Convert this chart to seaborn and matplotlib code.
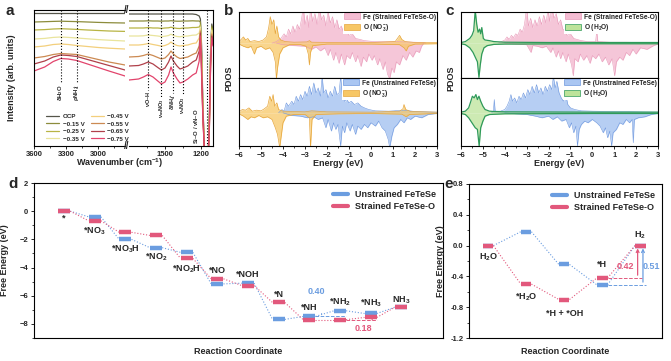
import numpy as np
import pandas as pd
import seaborn as sns
import matplotlib
matplotlib.use("Agg")
import matplotlib.pyplot as plt
from matplotlib.lines import Line2D
from matplotlib.patches import Patch
from matplotlib.ticker import MultipleLocator, FixedLocator, FormatStrFormatter

# ---------------- data: panel a (in situ IR spectra) ----------------
potentials = ["OCP", "\u22120.15 V", "\u22120.25 V", "\u22120.35 V",
              "\u22120.45 V", "\u22120.55 V", "\u22120.65 V", "\u22120.75 V"]
spec_colors = ["#55554a", "#8c8c3c", "#b8b444", "#e9e49c",
               "#f3cf7c", "#cc8a52", "#b0404a", "#e2446c"]
wn_left = [3600, 3500, 3420, 3350, 3280, 3200, 3100, 3000, 2900, 2750]
spec_left = [
    [133, 133, 133, 133, 133, 133, 133, 133, 133, 133],
    [124, 124.3, 124.6, 124.8, 124.6, 124.4, 124, 123.6, 123.3, 123],
    [116, 116.4, 117, 117.3, 117, 116.6, 116, 115.5, 115, 114.6],
    [107, 107.6, 108.6, 109, 108.6, 108, 107.2, 106.4, 105.8, 105],
    [99, 100, 101.5, 102, 101.5, 100.5, 99.5, 98.5, 97.8, 97],
    [88, 89.5, 91.5, 92.5, 92, 91.5, 89, 86.5, 84, 81],
    [82, 85, 89, 91, 90.5, 89.5, 86.5, 83.5, 80.5, 76],
    [75, 79, 84.5, 87.5, 87, 85.5, 82, 78.5, 75, 70],
]
wn_right = [1800, 1720, 1680, 1640, 1600, 1560, 1530, 1500, 1470, 1450, 1430,
            1400, 1375, 1350, 1310, 1270, 1240, 1215, 1205, 1195, 1185, 1170,
            1155, 1140, 1130, 1120, 1110, 1100]
spec_right = [
    [132, 132, 132, 132, 132, 132, 132, 132, 132, 132, 132, 132, 132, 132, 132,
     132, 131.5, 130, 127, 100, 45, -10, -10, -10, 30, 95, 122, 115],
    [125, 125, 125, 125.2, 125, 125, 124.8, 125, 125, 125.3, 125, 124.8, 124.8,
     125, 125, 125.2, 125, 125, 124, 92, 42, -10, -10, -10, 30, 92, 120, 113],
    [118, 118, 118, 118.4, 118, 118, 117.6, 118, 118.2, 118.8, 118.2, 117.6,
     117.5, 118, 118, 118.5, 118.5, 119, 121, 88, 40, -10, -10, -10, 28, 90, 118, 111],
    [110, 110, 110.2, 111, 110.5, 110, 109.4, 109.8, 110.5, 111.8, 110.5, 109.5,
     109.2, 109.8, 110, 110.8, 111, 113, 119, 85, 38, -10, -10, -10, 26, 88, 116, 109],
    [101, 101, 101.5, 102.5, 101.5, 100.6, 99.8, 100.5, 102, 104, 102, 100.5,
     100, 100.5, 101, 102.5, 103, 108, 117, 82, 36, -10, -10, -10, 24, 86, 114, 107],
    [89, 89.5, 90.5, 92, 90.5, 88.5, 87, 88, 91.5, 95, 92, 89, 87.5, 88, 89,
     91.5, 93, 100, 115, 78, 34, -10, -10, -10, 22, 84, 112, 105],
    [80, 80.5, 82, 84, 82, 78.5, 76, 78, 84, 90, 85, 80, 77, 78, 80, 84, 86,
     95, 113, 75, 32, -10, -10, -10, 20, 82, 110, 103],
    [66, 67, 69, 71.5, 69, 65, 62, 64, 71, 79, 73, 67, 63, 64, 67, 71, 73, 85,
     110, 70, 30, -10, -10, -10, 18, 80, 108, 100],
]
# band markers: (wavenumber, label, end of dashed line)
bands_left = [(3350, "$\\delta$H$_2$O", 63), (3200, "$\\rho$NH$_4^+$", 63)]
bands_right = [(1640, "$\\nu$O\u2013H", 56), (1530, "$\\nu_{as}$NO$_3$", 49),
               (1434, "$\\delta$NH$_4^+$", 53), (1352, "$\\nu_s$NO$_3$", 51)]

# ---------------- data: panels b, c (PDOS) ----------------
b_fe_str_up = [(-4.5, 0), (-4.3, 0.05), (-4.1, 0.15), (-3.95, 0.3), (-3.85, 0.2), (-3.75, 0.45), (-3.65, 0.3), (-3.55, 0.55), (-3.45, 0.35), (-3.35, 0.6), (-3.25, 0.45), (-3.15, 0.8), (-3.08, 1.2), (-3.0, 0.6), (-2.9, 0.9), (-2.82, 0.5), (-2.75, 1.1), (-2.65, 0.7), (-2.55, 0.95), (-2.45, 0.6), (-2.35, 1.15), (-2.25, 0.75), (-2.15, 0.9), (-2.05, 0.55), (-1.95, 1.0), (-1.85, 0.65), (-1.75, 0.85), (-1.65, 0.5), (-1.55, 0.75), (-1.45, 0.45), (-1.35, 0.55), (-1.25, 0.35), (-1.15, 0.45), (-1.0, 0.25), (-0.85, 0.3), (-0.7, 0.15), (-0.5, 0.12), (-0.3, 0.08), (0, 0.06), (0.5, 0.05), (1.0, 0.05), (1.5, 0.04), (2.0, 0.03), (2.4, 0.02), (2.5, 0)]
b_fe_str_dn = [(-4.3, 0), (-4.0, -0.05), (-3.5, -0.08), (-3.0, -0.1), (-2.7, -0.2), (-2.5, -0.12), (-2.3, -0.25), (-2.1, -0.15), (-1.95, -0.4), (-1.85, -0.2), (-1.7, -0.55), (-1.6, -0.3), (-1.45, -0.65), (-1.35, -0.35), (-1.2, -0.7), (-1.1, -0.4), (-0.95, -0.5), (-0.85, -0.3), (-0.7, -0.6), (-0.6, -0.4), (-0.45, -0.75), (-0.35, -0.45), (-0.2, -0.6), (-0.1, -0.35), (0.05, -0.55), (0.15, -0.4), (0.3, -0.7), (0.4, -0.5), (0.55, -0.85), (0.65, -0.6), (0.75, -1.0), (0.85, -1.15), (0.95, -0.8), (1.05, -0.95), (1.15, -0.6), (1.3, -0.7), (1.45, -0.4), (1.6, -0.55), (1.75, -0.3), (1.9, -0.45), (2.05, -0.25), (2.2, -0.3), (2.3, -0.1), (2.4, 0)]
b_o_str_up = [(-6, 0.05), (-5.9, 0.12), (-5.8, 0.2), (-5.7, 0.1), (-5.6, 0.15), (-5.5, 0.05), (-5.3, 0.08), (-5.1, 0.05), (-4.9, 0.1), (-4.75, 0.2), (-4.65, 0.5), (-4.58, 0.85), (-4.5, 0.6), (-4.42, 0.75), (-4.35, 0.3), (-4.28, 0.55), (-4.2, 0.2), (-4.1, 0.1), (-3.9, 0.05), (-3.5, 0.03), (-2.9, 0.04), (-2.8, 0.08), (-2.7, 0.03), (-1.5, 0.02), (0, 0.02), (1.1, 0.05), (1.2, 0.15), (1.3, 0.25), (1.4, 0.12), (1.55, 0.05), (2, 0.02), (3, 0.02)]
b_o_str_dn = [(-6, -0.03), (-5.8, -0.1), (-5.6, -0.15), (-5.45, -0.1), (-5.3, -0.35), (-5.2, -0.15), (-5.0, -0.1), (-4.8, -0.2), (-4.6, -0.15), (-4.45, -0.3), (-4.35, -0.6), (-4.3, -1.15), (-4.25, -0.8), (-4.15, -0.35), (-4.0, -0.15), (-3.7, -0.05), (-3.2, -0.05), (-2.95, -0.1), (-2.85, -0.35), (-2.8, -0.7), (-2.75, -0.3), (-2.65, -0.08), (-2, -0.03), (0, -0.03), (1.3, -0.05), (1.5, -0.15), (1.6, -0.25), (1.7, -0.1), (2, -0.03), (3, -0.02)]
b_fe_uns_up = [(-4.2, 0), (-4.05, 0.1), (-3.95, 0.05), (-3.85, 0.3), (-3.75, 0.2), (-3.6, 0.35), (-3.5, 0.25), (-3.4, 0.5), (-3.3, 0.35), (-3.2, 0.55), (-3.1, 0.4), (-3.0, 0.65), (-2.9, 0.5), (-2.8, 0.8), (-2.7, 0.55), (-2.6, 0.9), (-2.5, 0.6), (-2.4, 0.75), (-2.3, 0.5), (-2.22, 1.1), (-2.15, 0.6), (-2.05, 0.7), (-1.95, 0.45), (-1.85, 0.65), (-1.75, 0.5), (-1.65, 0.8), (-1.55, 0.55), (-1.45, 0.6), (-1.38, 1.1), (-1.3, 0.5), (-1.2, 0.35), (-1.1, 0.4), (-1.0, 0.3), (-0.9, 0.35), (-0.75, 0.25), (-0.6, 0.3), (-0.45, 0.2), (-0.3, 0.15), (-0.1, 0.1), (0.2, 0.06), (0.8, 0.05), (1.5, 0.08), (2.0, 0.04), (3, 0.02)]
b_fe_uns_dn = [(-4.0, 0), (-3.6, -0.08), (-3.2, -0.1), (-2.9, -0.15), (-2.6, -0.12), (-2.4, -0.2), (-2.2, -0.15), (-2.05, -0.45), (-1.95, -0.2), (-1.8, -0.55), (-1.7, -0.3), (-1.6, -0.5), (-1.5, -0.35), (-1.38, -1.0), (-1.3, -0.4), (-1.2, -0.6), (-1.1, -0.3), (-0.95, -0.55), (-0.85, -0.35), (-0.7, -0.65), (-0.6, -0.4), (-0.45, -0.5), (-0.3, -0.35), (-0.15, -0.45), (0.0, -0.3), (0.2, -0.4), (0.35, -0.25), (0.5, -0.45), (0.65, -0.55), (0.78, -0.8), (0.85, -1.05), (0.95, -0.7), (1.05, -0.45), (1.2, -0.35), (1.35, -0.2), (1.5, -0.3), (1.65, -0.15), (1.8, -0.2), (2.0, -0.1), (2.3, -0.15), (2.6, -0.05), (3, -0.02)]
b_o_uns_up = [(-6, 0.03), (-5.85, 0.1), (-5.7, 0.08), (-5.55, 0.15), (-5.4, 0.05), (-5.2, 0.08), (-5.0, 0.06), (-4.85, 0.12), (-4.7, 0.2), (-4.6, 0.5), (-4.52, 0.35), (-4.45, 0.55), (-4.38, 0.2), (-4.28, 0.3), (-4.2, 0.1), (-4.0, 0.05), (-3.6, 0.04), (-3.0, 0.03), (-2.7, 0.06), (-2.0, 0.03), (0, 0.02), (1.3, 0.05), (1.45, 0.12), (1.5, 0.25), (1.58, 0.1), (1.8, 0.04), (3, 0.02)]
b_o_uns_dn = [(-6, -0.03), (-5.8, -0.1), (-5.6, -0.2), (-5.45, -0.12), (-5.3, -0.15), (-5.1, -0.08), (-4.9, -0.15), (-4.7, -0.12), (-4.5, -0.2), (-4.35, -0.45), (-4.25, -0.65), (-4.15, -1.05), (-4.08, -0.7), (-4.0, -0.3), (-3.85, -0.1), (-3.5, -0.05), (-3.0, -0.05), (-2.8, -0.15), (-2.75, -1.05), (-2.68, -0.2), (-2.5, -0.05), (-1.5, -0.03), (0, -0.02), (1.4, -0.04), (1.6, -0.12), (1.75, -0.05), (3, -0.02)]

c_fe_str_up = [(-4.3, 0), (-4.15, 0.05), (-4.0, 0.1), (-3.9, 0.2), (-3.8, 0.12), (-3.7, 0.25), (-3.6, 0.18), (-3.5, 0.3), (-3.4, 0.25), (-3.3, 0.45), (-3.2, 0.35), (-3.1, 0.6), (-3.0, 1.15), (-2.92, 0.55), (-2.82, 0.8), (-2.72, 0.5), (-2.62, 0.75), (-2.52, 0.55), (-2.42, 0.85), (-2.32, 0.6), (-2.22, 0.9), (-2.12, 0.65), (-2.02, 1.1), (-1.95, 0.7), (-1.85, 1.15), (-1.75, 0.8), (-1.65, 0.95), (-1.55, 0.6), (-1.45, 0.75), (-1.35, 0.45), (-1.25, 0.4), (-1.15, 0.25), (-1.0, 0.3), (-0.85, 0.15), (-0.7, 0.12), (-0.5, 0.08), (-0.2, 0.05), (0.15, 0.05), (0.2, 0.4), (0.25, 0.05), (0.8, 0.03), (1.5, 0.03), (2.5, 0.02), (3, 0.01)]
c_fe_str_dn = [(-4.0, 0), (-3.5, -0.03), (-3.0, -0.05), (-2.8, -0.3), (-2.72, -0.08), (-2.5, -0.1), (-2.3, -0.15), (-2.1, -0.1), (-1.9, -0.3), (-1.8, -0.15), (-1.65, -0.45), (-1.55, -0.25), (-1.45, -0.5), (-1.35, -0.3), (-1.2, -0.6), (-1.1, -0.35), (-0.95, -0.7), (-0.87, -1.05), (-0.8, -0.5), (-0.65, -0.6), (-0.55, -0.35), (-0.4, -0.55), (-0.25, -0.4), (-0.1, -0.65), (0.0, -0.4), (0.15, -0.5), (0.3, -0.35), (0.45, -0.6), (0.6, -0.45), (0.75, -0.7), (0.9, -0.5), (1.02, -1.05), (1.1, -0.6), (1.25, -0.45), (1.4, -0.55), (1.55, -0.3), (1.7, -0.4), (1.85, -0.2), (2.0, -0.35), (2.2, -0.15), (2.5, -0.2), (2.8, -0.08), (3, -0.03)]
c_o_str_up = [(-6, 0.02), (-5.8, 0.05), (-5.7, 0.1), (-5.6, 0.15), (-5.5, 0.25), (-5.42, 0.4), (-5.35, 1.05), (-5.28, 0.6), (-5.22, 0.35), (-5.15, 0.45), (-5.1, 0.3), (-5.05, 0.5), (-4.98, 0.15), (-4.9, 0.1), (-4.7, 0.08), (-4.5, 0.05), (-4.0, 0.03), (-2, 0.02), (0, 0.02), (3, 0.02)]
c_o_str_dn = [(-6, -0.02), (-5.8, -0.05), (-5.6, -0.15), (-5.45, -0.3), (-5.35, -0.45), (-5.25, -0.6), (-5.18, -1.1), (-5.12, -0.7), (-5.05, -0.35), (-4.95, -0.15), (-4.8, -0.08), (-4.5, -0.04), (-4.0, -0.03), (0, -0.02), (3, -0.02)]
c_fe_uns_up = [(-4.6, 0), (-4.52, 0.05), (-4.48, 0.4), (-4.44, 0.05), (-4.2, 0.05), (-4.0, 0.1), (-3.9, 0.2), (-3.8, 0.35), (-3.72, 0.55), (-3.65, 0.35), (-3.55, 0.45), (-3.45, 0.3), (-3.35, 0.5), (-3.25, 0.4), (-3.15, 0.6), (-3.05, 0.45), (-2.95, 0.7), (-2.85, 0.55), (-2.75, 0.8), (-2.65, 0.6), (-2.55, 0.85), (-2.45, 0.6), (-2.35, 0.75), (-2.25, 0.55), (-2.15, 0.8), (-2.05, 0.65), (-1.95, 0.85), (-1.85, 0.7), (-1.78, 1.1), (-1.7, 0.75), (-1.62, 0.95), (-1.52, 0.6), (-1.42, 0.45), (-1.32, 0.35), (-1.2, 0.5), (-1.12, 0.25), (-1.0, 0.15), (-0.8, 0.1), (-0.5, 0.06), (0, 0.05), (1, 0.04), (2, 0.03), (3, 0.02)]
c_fe_uns_dn = [(-4.0, 0), (-3.5, -0.03), (-3.0, -0.05), (-2.6, -0.1), (-2.3, -0.15), (-2.0, -0.1), (-1.8, -0.2), (-1.6, -0.12), (-1.4, -0.25), (-1.2, -0.2), (-1.05, -0.45), (-0.95, -0.3), (-0.85, -0.6), (-0.75, -0.4), (-0.68, -1.0), (-0.6, -0.5), (-0.5, -0.35), (-0.35, -0.25), (-0.2, -0.3), (0.0, -0.2), (0.2, -0.3), (0.35, -0.4), (0.5, -0.6), (0.6, -0.45), (0.7, -0.75), (0.8, -0.55), (0.88, -1.0), (0.95, -0.6), (1.1, -0.5), (1.25, -0.3), (1.4, -0.35), (1.55, -0.2), (1.7, -0.3), (1.82, -0.2), (1.87, -0.9), (1.92, -0.2), (2.1, -0.15), (2.4, -0.12), (2.7, -0.05), (3, -0.02)]
c_o_uns_up = [(-6, 0.02), (-5.8, 0.05), (-5.65, 0.15), (-5.55, 0.35), (-5.48, 0.5), (-5.4, 0.45), (-5.32, 0.55), (-5.25, 0.4), (-5.18, 0.5), (-5.1, 0.35), (-5.0, 0.2), (-4.9, 0.1), (-4.7, 0.05), (-4.5, 0.04), (-4.0, 0.03), (0, 0.02), (3, 0.02)]
c_o_uns_dn = [(-6, -0.02), (-5.8, -0.05), (-5.65, -0.15), (-5.5, -0.3), (-5.35, -0.45), (-5.25, -0.5), (-5.17, -1.0), (-5.1, -0.45), (-5.0, -0.25), (-4.9, -0.1), (-4.7, -0.05), (-4.0, -0.03), (0, -0.02), (3, -0.02)]

# ---------------- data: panels d, e (free energy diagrams) ----------------
nrr_steps = ["*", "*NO$_3$", "*NO$_3$H", "*NO$_2$", "*NO$_2$H", "*NO", "*NOH",
             "*N", "*NH", "*NH$_2$", "*NH$_3$", "NH$_3$"]
nrr_unstrained = [0.0, -0.40, -2.00, -2.59, -2.92, -5.16, -5.11, -7.68, -7.47, -7.07, -7.26, -6.81]
nrr_strained = [0.0, -0.68, -1.50, -1.72, -3.35, -4.80, -5.28, -6.48, -7.70, -7.70, -7.54, -6.81]
nrr_label_y = [-0.47, -1.41, -2.69, -3.27, -4.12, -4.24, -4.52, -5.94, -6.83, -6.48, -6.53, -6.29]

her_steps = ["H$_2$O", "*H$_2$O", "*H + *OH", "*H", "H$_2$"]
her_unstrained = [0.0, 0.18, -0.245, -0.51, 0.0]
her_strained = [0.0, -0.50, -0.70, -0.42, 0.0]
her_label_y = [-0.145, -0.665, -0.885, -0.24, 0.14]

BLUE = "#6b9de0"
RED = "#e2587c"

# ---------------- style ----------------
sns.set_theme(style="ticks")
plt.rcParams["font.family"] = ["Liberation Sans", "DejaVu Sans"]
plt.rcParams["font.weight"] = "bold"
plt.rcParams["axes.labelweight"] = "bold"
plt.rcParams["mathtext.fontset"] = "custom"
plt.rcParams["mathtext.rm"] = "Liberation Sans:bold"
plt.rcParams["mathtext.it"] = "Liberation Sans:bold"
plt.rcParams["mathtext.bf"] = "Liberation Sans:bold"
plt.rcParams["mathtext.default"] = "rm"
plt.rcParams["axes.linewidth"] = 0.8
plt.rcParams["axes.edgecolor"] = "black"

W, H = 671, 361
fig = plt.figure(figsize=(W / 100, H / 100), dpi=100)


def box(x0, y0, x1, y1):
    return [x0 / W, 1 - y1 / H, (x1 - x0) / W, (y1 - y0) / H]


TICK = 5.5

# ---------------- panel a ----------------
axL = fig.add_axes(box(34, 10, 125, 146))
axR = fig.add_axes(box(129, 10, 213, 146))
rows = []
for name, yl, yr in zip(potentials, spec_left, spec_right):
    for w, v in zip(wn_left, yl):
        rows.append({"wn": w, "I": v, "pot": name, "seg": "L"})
    for w, v in zip(wn_right, yr):
        rows.append({"wn": w, "I": v, "pot": name, "seg": "R"})
spec = pd.DataFrame(rows)
pal = dict(zip(potentials, spec_colors))
sns.lineplot(data=spec[spec.seg == "L"], x="wn", y="I", hue="pot", palette=pal,
             hue_order=potentials, ax=axL, lw=0.9, sort=False, estimator=None)
sns.lineplot(data=spec[spec.seg == "R"], x="wn", y="I", hue="pot", palette=pal,
             hue_order=potentials, ax=axR, lw=0.9, sort=False, estimator=None, legend=False)
axL.set_xlim(3600, 2750)
axR.set_xlim(1800, 1100)
for ax in (axL, axR):
    ax.set_ylim(0, 136)
    ax.set_yticks([])
    ax.set_xlabel("")
    ax.set_ylabel("")
    ax.tick_params(axis="x", labelsize=TICK, length=2.5, width=0.7, pad=1.0, direction="out")
    ax.tick_params(axis="x", which="minor", length=1.5, width=0.6, direction="out")
axL.spines["right"].set_visible(False)
axR.spines["left"].set_visible(False)
axL.xaxis.set_major_locator(FixedLocator([3600, 3300, 3000]))
axL.xaxis.set_minor_locator(FixedLocator([3450, 3150, 2850]))
axR.xaxis.set_major_locator(FixedLocator([1500, 1200]))
axR.xaxis.set_minor_locator(FixedLocator([1650, 1350]))
axL.set_ylabel("Intensity (arb. units)", fontsize=6.5)
axL.yaxis.set_label_coords(-0.2, 0.5)
for w, lab, yend in bands_left:
    axL.plot([w, w], [136, yend], ls=":", color="black", lw=0.8)
    axL.text(w, yend - 1, lab, rotation=90, ha="center", va="top", fontsize=4.2)
for w, lab, yend in bands_right:
    axR.plot([w, w], [136, yend], ls=":", color="black", lw=0.8)
    axR.text(w, yend - 1, lab, rotation=90, ha="center", va="top", fontsize=4.0)
axR.plot([1150, 1150], [136, 0], ls=":", color="black", lw=0.8)
axR.text(1240, 2, "Si\u2013O / $\\nu$N\u2013O", rotation=90, ha="center", va="bottom", fontsize=4.2)
axL.legend(loc="lower left", bbox_to_anchor=(0.08, 0.0), ncol=2, frameon=False,
           fontsize=4.5, handlelength=2.2, columnspacing=1.0, labelspacing=0.35,
           handletextpad=0.5, borderaxespad=0.3)
fig.text(127 / W, 1 - 10 / H, "//", ha="center", va="center", fontsize=7)
fig.text(127 / W, 1 - 146 / H, "//", ha="center", va="center", fontsize=7)
fig.text(120 / W, 1 - 163.5 / H, "Wavenumber (cm$^{\u22121}$)", ha="center", va="center", fontsize=6.5)


# ---------------- panels b, c ----------------
def pdos_panel(ax, fe_up, fe_dn, o_up, o_dn, fe_fill, fe_edge, o_fill, o_edge, fe_lab, o_lab, ylim, o_lw):
    for series in (fe_up, fe_dn):
        e, v = zip(*series)
        ax.fill_between(e, v, 0, color=fe_fill, lw=0, alpha=0.85)
        ax.plot(e, v, color=fe_edge, lw=0.4)
    for series in (o_up, o_dn):
        e, v = zip(*series)
        ax.fill_between(e, v, 0, color=o_fill, lw=0, alpha=0.75)
        ax.plot(e, v, color=o_edge, lw=o_lw)
    ax.set_xlim(-6, 3)
    ax.set_ylim(*ylim)
    ax.set_yticks([])
    handles = [Patch(facecolor=fe_fill, edgecolor=fe_edge, lw=0.5),
               Patch(facecolor=o_fill, edgecolor=o_edge, lw=0.5)]
    ax.legend(handles, [fe_lab, o_lab], loc="upper right", fontsize=4.8, frameon=True,
              facecolor="white", edgecolor="none", framealpha=1, handlelength=2.4,
              handleheight=1.0, borderpad=0.1, borderaxespad=0.1, labelspacing=0.2,
              handletextpad=0.4, fancybox=False)


PINK, PINK_E = "#f4bcd2", "#e89ab9"
LBLUE, LBLUE_E = "#aac6f2", "#6f98de"
ORANGE, ORANGE_E = "#f7c766", "#e6a63c"
GREEN, GREEN_E = "#bde39a", "#2f9a5a"

panel_sets = [
    (239, 437, [(b_fe_str_up, b_fe_str_dn, b_o_str_up, b_o_str_dn, PINK, PINK_E, ORANGE, ORANGE_E,
                 "Fe (Strained FeTeSe-O)", "O (NO$_3^{\u2212}$)", (-1.12, 1.0), 0.5),
                (b_fe_uns_up, b_fe_uns_dn, b_o_uns_up, b_o_uns_dn, LBLUE, LBLUE_E, ORANGE, ORANGE_E,
                 "Fe (Unstrained FeTeSe)", "O (NO$_3^{\u2212}$)", (-1.0, 1.05), 0.5)]),
    (461, 658, [(c_fe_str_up, c_fe_str_dn, c_o_str_up, c_o_str_dn, PINK, PINK_E, GREEN, GREEN_E,
                 "Fe (Strained FeTeSe-O)", "O (H$_2$O)", (-1.12, 1.0), 0.9),
                (c_fe_uns_up, c_fe_uns_dn, c_o_uns_up, c_o_uns_dn, LBLUE, LBLUE_E, GREEN, GREEN_E,
                 "Fe (Unstrained FeTeSe)", "O (H$_2$O)", (-1.0, 1.05), 0.9)]),
]
for x0, x1, subs in panel_sets:
    axT = fig.add_axes(box(x0, 12, x1, 78))
    axB = fig.add_axes(box(x0, 78, x1, 146))
    pdos_panel(axT, *subs[0])
    pdos_panel(axB, *subs[1])
    axT.set_xticks([])
    axB.xaxis.set_major_locator(MultipleLocator(1))
    axB.xaxis.set_minor_locator(MultipleLocator(0.5))
    axB.tick_params(axis="x", labelsize=TICK, length=2.5, width=0.7, pad=1.5, direction="out")
    axB.tick_params(axis="x", which="minor", length=1.5, width=0.6, direction="out")
    fig.text((x0 + x1) / 2 / W, 1 - 164 / H, "Energy (eV)", ha="center", va="center", fontsize=6.5)
    fig.text((x0 - 10) / W, 1 - 78 / H, "PDOS", rotation=90, ha="center", va="center", fontsize=6.5)


# ---------------- panels d, e ----------------
def energy_diagram(ax, unstr, strn, width):
    for vals, col in ((unstr, BLUE), (strn, RED)):
        xs = np.arange(len(vals))
        ax.hlines(vals, xs - width / 2, xs + width / 2, color=col, lw=3.2, zorder=3)
        for i in range(len(vals) - 1):
            ax.plot([i + width / 2, i + 1 - width / 2], [vals[i], vals[i + 1]],
                    ls=":", color=col, lw=0.8, zorder=2)
    ax.set_xticks([])
    ax.tick_params(axis="y", labelsize=TICK, length=2.5, width=0.7, pad=1.5, direction="out")
    ax.tick_params(axis="y", which="minor", length=1.5, width=0.6, direction="out")
    handles = [Line2D([], [], color=BLUE, lw=3), Line2D([], [], color=RED, lw=3)]
    ax.legend(handles, ["Unstrained FeTeSe", "Strained FeTeSe-O"], loc="upper right",
              fontsize=6.5, frameon=False, handlelength=1.6, labelspacing=0.3,
              handletextpad=0.8, borderaxespad=0.4)


axD = fig.add_axes(box(34, 183, 443, 338))
energy_diagram(axD, nrr_unstrained, nrr_strained, 0.4)
axD.set_xlim(-0.98, 12.36)
axD.set_ylim(-9, 2)
axD.yaxis.set_major_locator(MultipleLocator(2))
axD.yaxis.set_minor_locator(MultipleLocator(1))
for i, (lab, y) in enumerate(zip(nrr_steps, nrr_label_y)):
    axD.text(i, y, lab, ha="center", va="center", fontsize=6.5)
axD.hlines(-7.47, 8.2, 9.2, color=BLUE, ls="--", lw=0.7)
axD.annotate("", xy=(8.4, -7.07), xytext=(8.4, -7.47),
             arrowprops=dict(arrowstyle="-", color=BLUE, lw=0.8))
axD.hlines(-7.72, 9.2, 10.2, color=RED, ls="--", lw=0.7)
axD.annotate("", xy=(10.05, -7.54), xytext=(10.05, -7.72),
             arrowprops=dict(arrowstyle="-", color=RED, lw=0.8))
axD.text(8.23, -5.7, "0.40", color=BLUE, ha="center", va="center", fontsize=6.5)
axD.text(9.75, -8.36, "0.18", color=RED, ha="center", va="center", fontsize=6.5)
axD.set_ylabel("Free Energy (eV)", fontsize=6.5)
axD.yaxis.set_label_coords(-0.062, 0.5)
fig.text(238 / W, 1 - 351 / H, "Reaction Coordinate", ha="center", va="center", fontsize=6.5)

axE = fig.add_axes(box(469, 184, 662, 338))
energy_diagram(axE, her_unstrained, her_strained, 0.28)
axE.set_xlim(-0.5, 4.57)
axE.set_ylim(-1.2, 0.8)
axE.yaxis.set_major_locator(MultipleLocator(0.4))
axE.yaxis.set_minor_locator(MultipleLocator(0.2))
axE.yaxis.set_major_formatter(FormatStrFormatter("%.1f"))
for i, (lab, y) in enumerate(zip(her_steps, her_label_y)):
    axE.text(i, y, lab, ha="center", va="center", fontsize=6.5)
axE.hlines(-0.42, 3.14, 4.05, color=RED, ls="--", lw=0.7)
axE.hlines(-0.51, 3.14, 4.14, color=BLUE, ls="--", lw=0.7)
axE.annotate("", xy=(3.93, 0.0), xytext=(3.93, -0.42),
             arrowprops=dict(arrowstyle="->", color=RED, lw=0.9, mutation_scale=5))
axE.annotate("", xy=(4.07, 0.0), xytext=(4.07, -0.51),
             arrowprops=dict(arrowstyle="->", color=BLUE, lw=0.9, mutation_scale=5))
axE.text(3.62, -0.27, "0.42", color=RED, ha="center", va="center", fontsize=6.5)
axE.text(4.3, -0.27, "0.51", color=BLUE, ha="center", va="center", fontsize=6.5)
axE.set_ylabel("Free Energy (eV)", fontsize=6.5)
axE.yaxis.set_label_coords(-0.125, 0.5)
fig.text(565 / W, 1 - 351 / H, "Reaction Coordinate", ha="center", va="center", fontsize=6.5)

# panel letters
for lab, x, y in (("a", 10, 11), ("b", 229, 11), ("c", 450, 11), ("d", 13, 184), ("e", 449, 184)):
    fig.text(x / W, 1 - y / H, lab, ha="center", va="center", fontsize=11, fontweight="bold")

fig.savefig("out.png", dpi=100)
